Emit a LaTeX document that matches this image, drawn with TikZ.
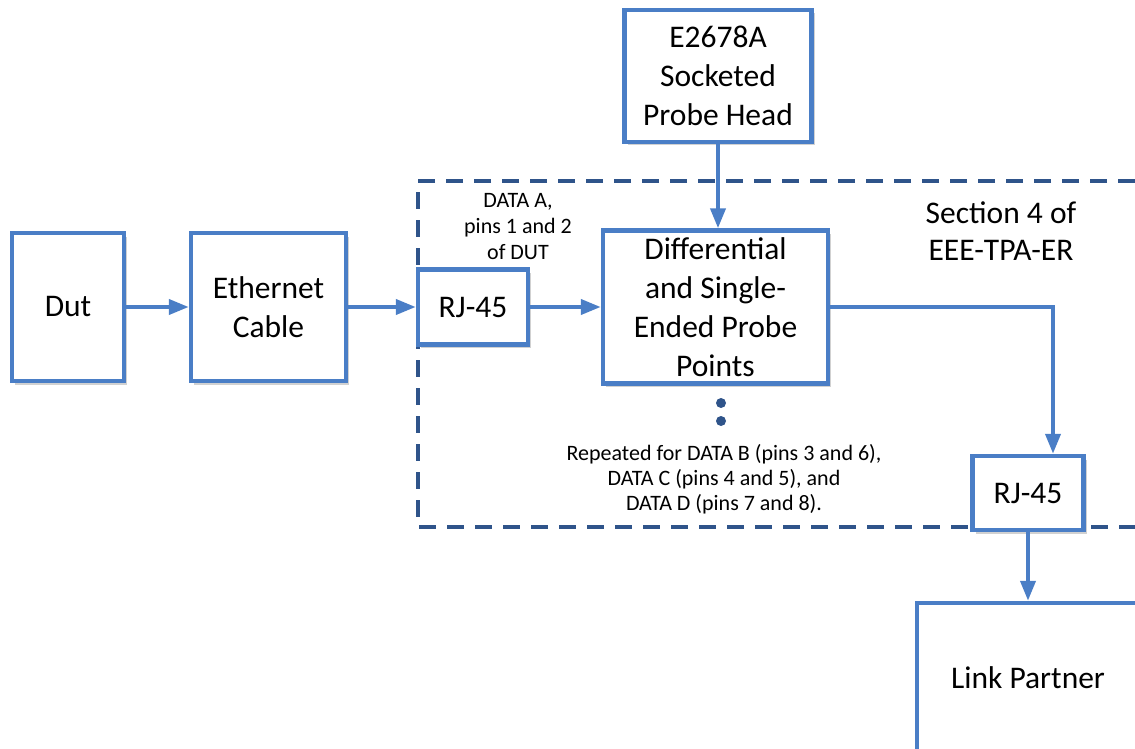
\documentclass[tikz,border=0pt]{standalone}
\usepackage{fontspec}
\setmainfont{Carlito}
\usetikzlibrary{arrows.meta,shadows}
\definecolor{boxblue}{RGB}{74,126,198}
\definecolor{dashblue}{RGB}{47,84,138}
\begin{document}
\begin{tikzpicture}[x=1pt,y=-1pt,
  blockbox/.style={draw=boxblue,line width=4.5pt,fill=white,inner sep=0pt,align=center,
    font=\fontsize{31.5}{39}\selectfont,
    drop shadow={shadow xshift=3pt,shadow yshift=-3.5pt,opacity=0.3,fill=black!60}},
  conn/.style={draw=boxblue,line width=4pt,-{Triangle[length=20pt,width=15pt]}},
  frame/.style={draw=dashblue,line width=4pt,dash pattern=on 17pt off 11pt},
  dotnode/.style={circle,fill=dashblue,inner sep=0pt,minimum size=10pt},
  smalltext/.style={align=center,inner sep=0pt,font=\fontsize{22}{26}\selectfont},
  bigtext/.style={align=center,inner sep=0pt,font=\fontsize{31.5}{37}\selectfont}]
\useasboundingbox (0,0) rectangle (1135,749);
% dashed section frame
\draw[frame] (1135,181) -| (418,527) -- (1135,527);
% blocks
\node[blockbox,minimum width=112pt,minimum height=148pt] (dut) at (68,307) {Dut};
\node[blockbox,minimum width=155pt,minimum height=148pt] (eth) at (268.5,307) {Ethernet\\Cable};
\node[blockbox,minimum width=110pt,minimum height=75pt] (rjl) at (473,307) {RJ-45};
\node[blockbox,minimum width=225pt,minimum height=153pt] (diff) at (715.5,307) {Differential\\and Single-\\Ended Probe\\Points};
\node[blockbox,minimum width=187pt,minimum height=132pt] (probe) at (718,76) {E2678A\\Socketed\\Probe Head};
\node[blockbox,minimum width=111pt,minimum height=74pt] (rjr) at (1028,493) {RJ-45};
\node[blockbox,minimum width=222pt,minimum height=150pt] (link) at (1028,678) {Link Partner};
% connectors
\draw[conn] (dut.east) -- (eth.west);
\draw[conn] (eth.east) -- (rjl.west);
\draw[conn] (rjl.east) -- (diff.west);
\draw[conn] (probe.south) -- (probe.south |- diff.north);
\draw[conn] (diff.east) -| ([xshift=25pt]rjr.north);
\draw[conn] (rjr.south) -- (link.north);
% dots
\node[dotnode] (dot1) at (721,403) {};
\node[dotnode] (dot2) at (721,421) {};
% labels
\node[smalltext] (dataa) at (518,227) {DATA A,\\pins 1 and 2\\of DUT};
\node[bigtext] (section) at (1001,231) {Section 4 of\\EEE-TPA-ER};
\node[smalltext,font=\fontsize{22}{25}\selectfont] (repeat) at (724,479) {Repeated for DATA B (pins 3 and 6),\\DATA C (pins 4 and 5), and\\DATA D (pins 7 and 8).};
\end{tikzpicture}
\end{document}
